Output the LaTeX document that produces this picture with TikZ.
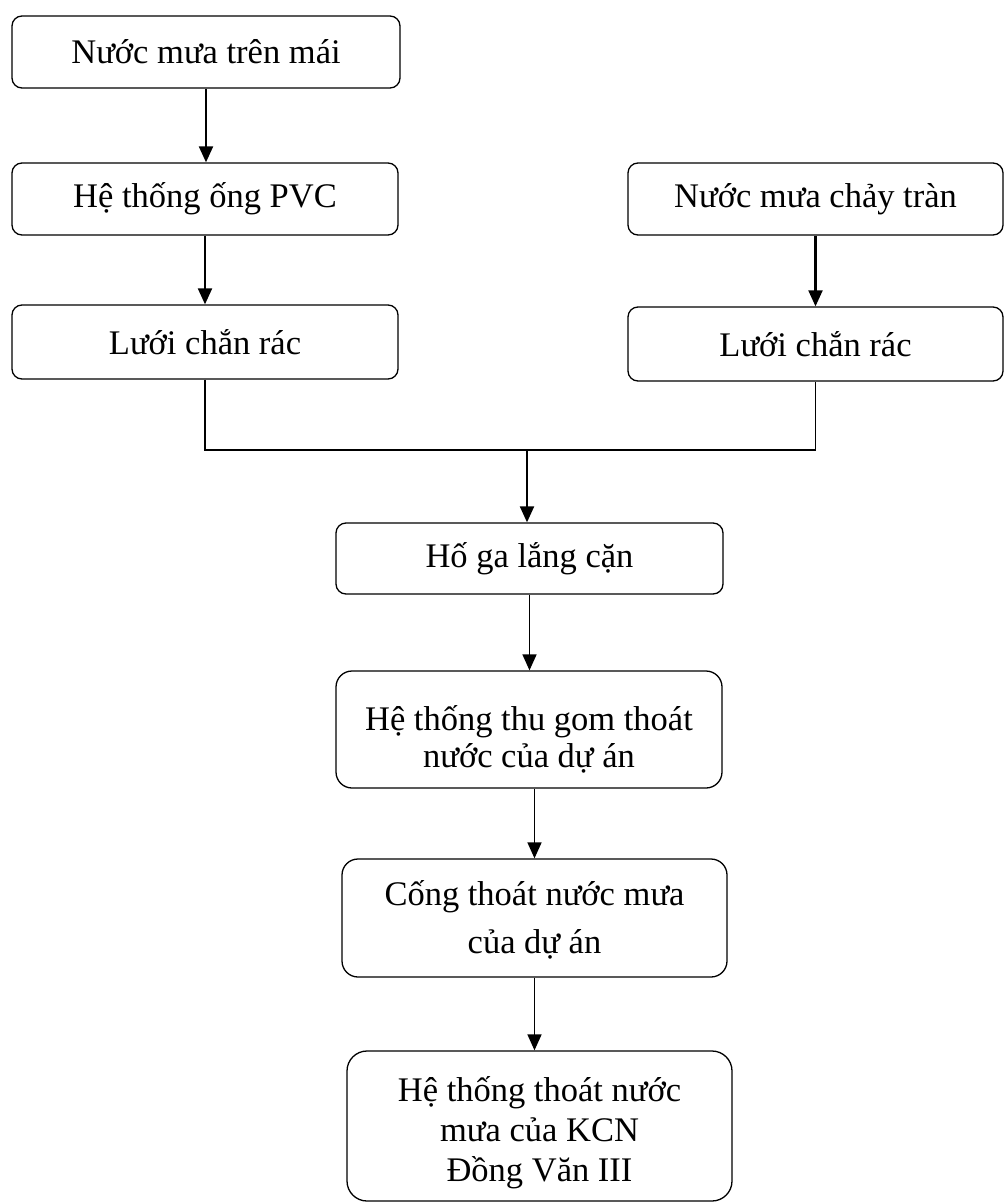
\documentclass[tikz,border=0pt]{standalone}
\usepackage{fontspec}
\setmainfont{Liberation Serif}
\usetikzlibrary{arrows.meta}

% invisible struts that fix the extent of multi-line labels
\newcommand\htfix[1]{\rule{0pt}{#1}}
\newcommand\dpfix[1]{\rule[-#1]{0pt}{#1}}

\tikzset{
  x=1pt, y=-1pt,
  stage/.style={draw=black, line width=1.3pt, rounded corners=10pt,
    align=center, inner sep=0pt, font=\fontsize{34.5}{40}\selectfont},
  flow/.style={line width=1.6pt, -{Triangle[width=14pt,length=16pt]}},
  bold flow/.style={flow, line width=2.1pt},
  link/.style={line width=1.3pt}
}

\begin{document}
\begin{tikzpicture}
\useasboundingbox (0,0) rectangle (1005,1204);

% left branch: roof rainwater
\node[stage, minimum width=388pt, minimum height=72pt] (roof) at (206,52) {Nước mưa trên mái};
\node[stage, minimum width=386pt, minimum height=72pt] (pvc) at (205,199) {Hệ thống ống PVC};
\node[stage, minimum width=386pt, minimum height=74pt] (screenL) at (205,342) {Lưới chắn rác};

% right branch: surface runoff
\node[stage, minimum width=375pt, minimum height=72pt] (runoff) at (815.5,199) {Nước mưa chảy tràn};
\node[stage, minimum width=375pt, minimum height=74pt] (screenR) at (815.5,344) {Lưới chắn rác};

% common path
\node[stage, minimum width=387pt, minimum height=71pt] (pit) at (529.5,558.5) {Hố ga lắng cặn};
\node[stage, rounded corners=16pt, minimum width=386pt, minimum height=117pt,
      font=\fontsize{34.5}{37}\selectfont] (collect) at (529,729.5)
  {\htfix{48pt}Hệ thống thu gom thoát\\nước của dự án\dpfix{10pt}};
\node[stage, rounded corners=16pt, minimum width=385pt, minimum height=118pt,
      font=\fontsize{34.5}{48}\selectfont] (culvert) at (534.5,918)
  {\htfix{36pt}Cống thoát nước mưa\\của dự án\dpfix{14pt}};
\node[stage, rounded corners=20pt, minimum width=385pt, minimum height=150pt,
      font=\fontsize{34.5}{40}\selectfont] (kcn) at (539.5,1126)
  {\htfix{40pt}Hệ thống thoát nước\\mưa của KCN\\Đồng Văn III\dpfix{10pt}};

% junction of the two branches
\coordinate (join) at (527,450);

\draw[bold flow] (roof) -- (roof.south |- pvc.north);
\draw[bold flow] (pvc) -- (pvc.south |- screenL.north);
\draw[bold flow] (runoff) -- (runoff.south |- screenR.north);
\draw[link] (screenL.south) |- (join) -| (screenR.south);
\draw[bold flow] (join) -- (join |- pit.north);
\draw[flow] (pit.south) -- (pit.south |- collect.north);
\draw[flow] (collect.south -| culvert.north) -- (culvert.north);
\draw[flow] (culvert.south) -- (culvert.south |- kcn.north);
\end{tikzpicture}
\end{document}
